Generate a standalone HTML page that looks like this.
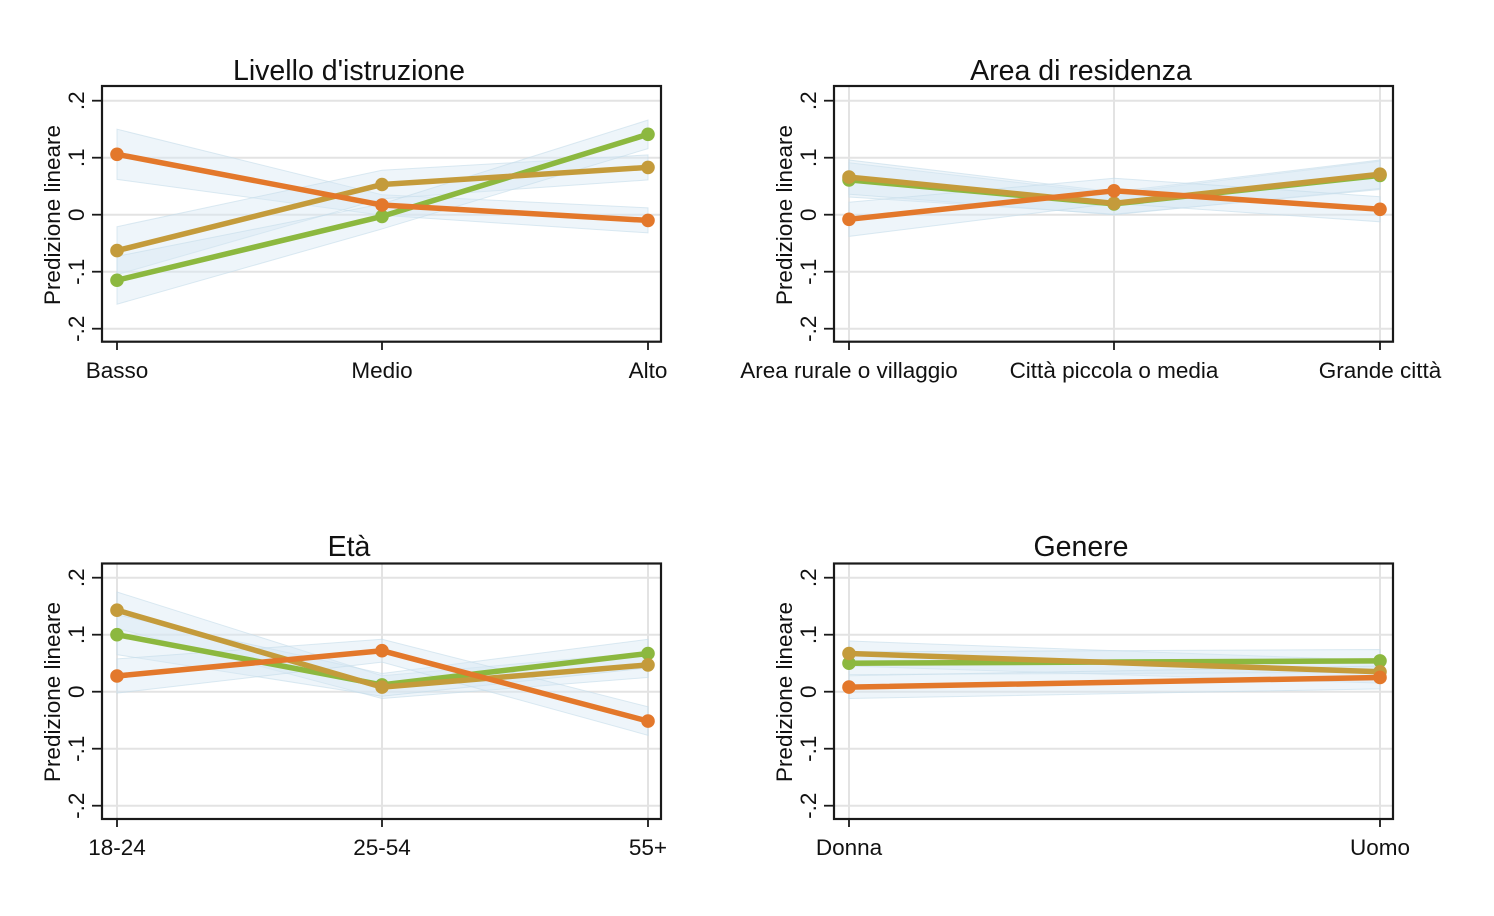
<!DOCTYPE html>
<html>
<head>
<meta charset="utf-8">
<style>
html,body{margin:0;padding:0;background:#fff;}
svg{display:block;}
text{font-family:"Liberation Sans",Arial,sans-serif;fill:#111;}
.t{font-size:28.5px;}
.l{font-size:22.5px;}
.grid{stroke:#e3e3e3;stroke-width:2;}
.frame{fill:none;stroke:#1a1a1a;stroke-width:2.2;}
.tick{stroke:#1a1a1a;stroke-width:1.8;}
.band{fill:#d6e8f2;fill-opacity:0.42;stroke:#c4dcea;stroke-opacity:0.6;stroke-width:1;}
.s{fill:none;stroke-width:5.5;stroke-linejoin:round;stroke-linecap:round;}
.g{stroke:#8cb83f;} .gm{fill:#8cb83f;}
.y{stroke:#c49b3b;} .ym{fill:#c49b3b;}
.o{stroke:#e3782b;} .om{fill:#e3782b;}
circle{r:6.8px;}
</style>
</head>
<body>
<svg width="1494" height="916" viewBox="0 0 1494 916" xmlns="http://www.w3.org/2000/svg">
<rect width="1494" height="916" fill="#fff"/>

<!-- ================= TOP LEFT ================= -->
<g transform="translate(0,0)">
  <line class="grid" x1="103" x2="660" y1="100.7" y2="100.7"/>
  <line class="grid" x1="103" x2="660" y1="157.7" y2="157.7"/>
  <line class="grid" x1="103" x2="660" y1="214.7" y2="214.7"/>
  <line class="grid" x1="103" x2="660" y1="271.7" y2="271.7"/>
  <line class="grid" x1="103" x2="660" y1="328.7" y2="328.7"/>
  <polygon class="band" points="117,129.2 382,194.75 648,207.9 648,232.9 382,215.3 117,179.4"/>
  <polygon class="band" points="117,226.7 382,170.2 648,154.9 648,179.9 382,198.7 117,274.6"/>
  <polygon class="band" points="117,256.3 382,203.9 648,120.1 648,148.6 382,228.95 117,304.2"/>
  <polyline class="s g" points="117,280.25 382,216.4 648,134.3"/>
  <circle class="gm" cx="117" cy="280.25" r="6.8"/><circle class="gm" cx="382" cy="216.4" r="6.8"/><circle class="gm" cx="648" cy="134.3" r="6.8"/>
  <polyline class="s y" points="117,250.6 382,184.5 648,167.4"/>
  <circle class="ym" cx="117" cy="250.6" r="6.8"/><circle class="ym" cx="382" cy="184.5" r="6.8"/><circle class="ym" cx="648" cy="167.4" r="6.8"/>
  <polyline class="s o" points="117,154.3 382,205 648,220.4"/>
  <circle class="om" cx="117" cy="154.3" r="6.8"/><circle class="om" cx="382" cy="205" r="6.8"/><circle class="om" cx="648" cy="220.4" r="6.8"/>
  <rect class="frame" x="102" y="86" width="559" height="255.7"/>
  <line class="tick" x1="92" x2="102" y1="100.7" y2="100.7"/>
  <line class="tick" x1="92" x2="102" y1="157.7" y2="157.7"/>
  <line class="tick" x1="92" x2="102" y1="214.7" y2="214.7"/>
  <line class="tick" x1="92" x2="102" y1="271.7" y2="271.7"/>
  <line class="tick" x1="92" x2="102" y1="328.7" y2="328.7"/>
  <line class="tick" x1="117" x2="117" y1="342" y2="350"/>
  <line class="tick" x1="382" x2="382" y1="342" y2="350"/>
  <line class="tick" x1="648" x2="648" y1="342" y2="350"/>
  <text class="l" text-anchor="middle" transform="translate(84,100.7) rotate(-90)">.2</text>
  <text class="l" text-anchor="middle" transform="translate(84,157.7) rotate(-90)">.1</text>
  <text class="l" text-anchor="middle" transform="translate(84,214.7) rotate(-90)">0</text>
  <text class="l" text-anchor="middle" transform="translate(84,271.7) rotate(-90)">-.1</text>
  <text class="l" text-anchor="middle" transform="translate(84,328.7) rotate(-90)">-.2</text>
  <text class="l" text-anchor="middle" transform="translate(60,215) rotate(-90)">Predizione lineare</text>
  <text class="l" text-anchor="middle" x="117" y="378">Basso</text>
  <text class="l" text-anchor="middle" x="382" y="378">Medio</text>
  <text class="l" text-anchor="middle" x="648" y="378">Alto</text>
  <text class="t" text-anchor="middle" x="349" y="80">Livello d'istruzione</text>
</g>

<!-- ================= TOP RIGHT ================= -->
<g transform="translate(732,0)">
  <line class="grid" x1="103" x2="660" y1="100.7" y2="100.7"/>
  <line class="grid" x1="103" x2="660" y1="157.7" y2="157.7"/>
  <line class="grid" x1="103" x2="660" y1="214.7" y2="214.7"/>
  <line class="grid" x1="103" x2="660" y1="271.7" y2="271.7"/>
  <line class="grid" x1="103" x2="660" y1="328.7" y2="328.7"/>
  <line class="grid" x1="117" x2="117" y1="87" y2="341"/>
  <line class="grid" x1="382" x2="382" y1="87" y2="341"/>
  <line class="grid" x1="648" x2="648" y1="87" y2="341"/>
  <polygon class="band" points="117,162.8 382,193.6 648,161.1 648,189.6 382,214.1 117,197"/>
  <polygon class="band" points="117,160 382,191.9 648,160 648,188.5 382,214.7 117,194.2"/>
  <polygon class="band" points="117,202.2 382,178.2 648,196.7 648,221.8 382,203.3 117,236.4"/>
  <polyline class="s g" points="117,179.9 382,203.9 648,175.4"/>
  <circle class="gm" cx="117" cy="179.9" r="6.8"/><circle class="gm" cx="382" cy="203.9" r="6.8"/><circle class="gm" cx="648" cy="175.4" r="6.8"/>
  <polyline class="s y" points="117,177.1 382,203.3 648,174.2"/>
  <circle class="ym" cx="117" cy="177.1" r="6.8"/><circle class="ym" cx="382" cy="203.3" r="6.8"/><circle class="ym" cx="648" cy="174.2" r="6.8"/>
  <polyline class="s o" points="117,219.3 382,190.8 648,209.3"/>
  <circle class="om" cx="117" cy="219.3" r="6.8"/><circle class="om" cx="382" cy="190.8" r="6.8"/><circle class="om" cx="648" cy="209.3" r="6.8"/>
  <rect class="frame" x="102" y="86" width="559" height="255.7"/>
  <line class="tick" x1="92" x2="102" y1="100.7" y2="100.7"/>
  <line class="tick" x1="92" x2="102" y1="157.7" y2="157.7"/>
  <line class="tick" x1="92" x2="102" y1="214.7" y2="214.7"/>
  <line class="tick" x1="92" x2="102" y1="271.7" y2="271.7"/>
  <line class="tick" x1="92" x2="102" y1="328.7" y2="328.7"/>
  <line class="tick" x1="117" x2="117" y1="342" y2="350"/>
  <line class="tick" x1="382" x2="382" y1="342" y2="350"/>
  <line class="tick" x1="648" x2="648" y1="342" y2="350"/>
  <text class="l" text-anchor="middle" transform="translate(84,100.7) rotate(-90)">.2</text>
  <text class="l" text-anchor="middle" transform="translate(84,157.7) rotate(-90)">.1</text>
  <text class="l" text-anchor="middle" transform="translate(84,214.7) rotate(-90)">0</text>
  <text class="l" text-anchor="middle" transform="translate(84,271.7) rotate(-90)">-.1</text>
  <text class="l" text-anchor="middle" transform="translate(84,328.7) rotate(-90)">-.2</text>
  <text class="l" text-anchor="middle" transform="translate(60,215) rotate(-90)">Predizione lineare</text>
  <text class="l" text-anchor="middle" x="117" y="378">Area rurale o villaggio</text>
  <text class="l" text-anchor="middle" x="382" y="378">Città piccola o media</text>
  <text class="l" text-anchor="middle" x="648" y="378">Grande città</text>
  <text class="t" text-anchor="middle" x="349" y="80">Area di residenza</text>
</g>

<!-- ================= BOTTOM LEFT ================= -->
<g transform="translate(0,477)">
  <line class="grid" x1="103" x2="660" y1="100.7" y2="100.7"/>
  <line class="grid" x1="103" x2="660" y1="157.7" y2="157.7"/>
  <line class="grid" x1="103" x2="660" y1="214.7" y2="214.7"/>
  <line class="grid" x1="103" x2="660" y1="271.7" y2="271.7"/>
  <line class="grid" x1="103" x2="660" y1="328.7" y2="328.7"/>
  <line class="grid" x1="117" x2="117" y1="87" y2="341"/>
  <line class="grid" x1="382" x2="382" y1="87" y2="341"/>
  <line class="grid" x1="648" x2="648" y1="87" y2="341"/>
  <polygon class="band" points="117,115 382,198.7 648,175.4 648,200.45 382,221.5 117,151.4"/>
  <polygon class="band" points="117,137.75 382,196.5 648,162.3 648,190.8 382,219.3 117,177.65"/>
  <polygon class="band" points="117,181.9 382,162.3 648,229.8 648,258.3 382,185.1 117,216.1"/>
  <polyline class="s g" points="117,157.7 382,207.9 648,176.5"/>
  <circle class="gm" cx="117" cy="157.7" r="6.8"/><circle class="gm" cx="382" cy="207.9" r="6.8"/><circle class="gm" cx="648" cy="176.5" r="6.8"/>
  <polyline class="s y" points="117,133.2 382,210.1 648,187.9"/>
  <circle class="ym" cx="117" cy="133.2" r="6.8"/><circle class="ym" cx="382" cy="210.1" r="6.8"/><circle class="ym" cx="648" cy="187.9" r="6.8"/>
  <polyline class="s o" points="117,199 382,173.7 648,244.1"/>
  <circle class="om" cx="117" cy="199" r="6.8"/><circle class="om" cx="382" cy="173.7" r="6.8"/><circle class="om" cx="648" cy="244.1" r="6.8"/>
  <rect class="frame" x="102" y="86.5" width="559" height="255.5"/>
  <line class="tick" x1="92" x2="102" y1="100.7" y2="100.7"/>
  <line class="tick" x1="92" x2="102" y1="157.7" y2="157.7"/>
  <line class="tick" x1="92" x2="102" y1="214.7" y2="214.7"/>
  <line class="tick" x1="92" x2="102" y1="271.7" y2="271.7"/>
  <line class="tick" x1="92" x2="102" y1="328.7" y2="328.7"/>
  <line class="tick" x1="117" x2="117" y1="342" y2="350"/>
  <line class="tick" x1="382" x2="382" y1="342" y2="350"/>
  <line class="tick" x1="648" x2="648" y1="342" y2="350"/>
  <text class="l" text-anchor="middle" transform="translate(84,100.7) rotate(-90)">.2</text>
  <text class="l" text-anchor="middle" transform="translate(84,157.7) rotate(-90)">.1</text>
  <text class="l" text-anchor="middle" transform="translate(84,214.7) rotate(-90)">0</text>
  <text class="l" text-anchor="middle" transform="translate(84,271.7) rotate(-90)">-.1</text>
  <text class="l" text-anchor="middle" transform="translate(84,328.7) rotate(-90)">-.2</text>
  <text class="l" text-anchor="middle" transform="translate(60,215) rotate(-90)">Predizione lineare</text>
  <text class="l" text-anchor="middle" x="117" y="378">18-24</text>
  <text class="l" text-anchor="middle" x="382" y="378">25-54</text>
  <text class="l" text-anchor="middle" x="648" y="378">55+</text>
  <text class="t" text-anchor="middle" x="349" y="79">Età</text>
</g>

<!-- ================= BOTTOM RIGHT ================= -->
<g transform="translate(732,477)">
  <line class="grid" x1="103" x2="660" y1="100.7" y2="100.7"/>
  <line class="grid" x1="103" x2="660" y1="157.7" y2="157.7"/>
  <line class="grid" x1="103" x2="660" y1="214.7" y2="214.7"/>
  <line class="grid" x1="103" x2="660" y1="271.7" y2="271.7"/>
  <line class="grid" x1="103" x2="660" y1="328.7" y2="328.7"/>
  <line class="grid" x1="117" x2="117" y1="87" y2="341"/>
  <line class="grid" x1="648" x2="648" y1="87" y2="341"/>
  <polygon class="band" points="117,164 648,183.35 648,206.15 117,189.05"/>
  <polygon class="band" points="117,174.8 648,172.5 648,195.3 117,197.6"/>
  <polygon class="band" points="117,198.7 648,189.05 648,211.85 117,221.5"/>
  <polyline class="s g" points="117,186.2 648,183.9"/>
  <circle class="gm" cx="117" cy="186.2" r="6.8"/><circle class="gm" cx="648" cy="183.9" r="6.8"/>
  <polyline class="s y" points="117,176.5 648,194.75"/>
  <circle class="ym" cx="117" cy="176.5" r="6.8"/><circle class="ym" cx="648" cy="194.75" r="6.8"/>
  <polyline class="s o" points="117,210.1 648,200.45"/>
  <circle class="om" cx="117" cy="210.1" r="6.8"/><circle class="om" cx="648" cy="200.45" r="6.8"/>
  <rect class="frame" x="102" y="86.5" width="559" height="255.5"/>
  <line class="tick" x1="92" x2="102" y1="100.7" y2="100.7"/>
  <line class="tick" x1="92" x2="102" y1="157.7" y2="157.7"/>
  <line class="tick" x1="92" x2="102" y1="214.7" y2="214.7"/>
  <line class="tick" x1="92" x2="102" y1="271.7" y2="271.7"/>
  <line class="tick" x1="92" x2="102" y1="328.7" y2="328.7"/>
  <line class="tick" x1="117" x2="117" y1="342" y2="350"/>
  <line class="tick" x1="648" x2="648" y1="342" y2="350"/>
  <text class="l" text-anchor="middle" transform="translate(84,100.7) rotate(-90)">.2</text>
  <text class="l" text-anchor="middle" transform="translate(84,157.7) rotate(-90)">.1</text>
  <text class="l" text-anchor="middle" transform="translate(84,214.7) rotate(-90)">0</text>
  <text class="l" text-anchor="middle" transform="translate(84,271.7) rotate(-90)">-.1</text>
  <text class="l" text-anchor="middle" transform="translate(84,328.7) rotate(-90)">-.2</text>
  <text class="l" text-anchor="middle" transform="translate(60,215) rotate(-90)">Predizione lineare</text>
  <text class="l" text-anchor="middle" x="117" y="378">Donna</text>
  <text class="l" text-anchor="middle" x="648" y="378">Uomo</text>
  <text class="t" text-anchor="middle" x="349" y="79">Genere</text>
</g>
</svg>
</body>
</html>
